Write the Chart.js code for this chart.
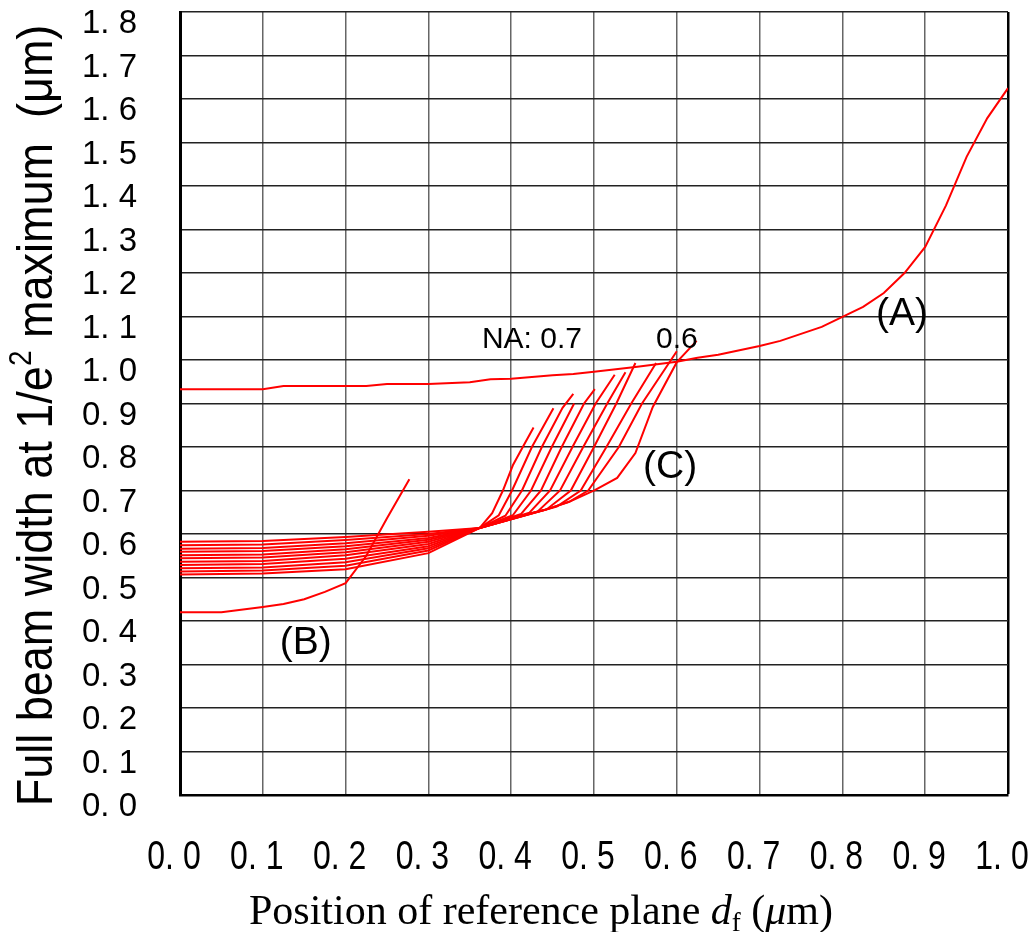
<!DOCTYPE html>
<html lang="en">
<head>
    <meta charset="UTF-8">
    <title>Full beam width vs reference plane position</title>
    <script src="https://cdn.jsdelivr.net/npm/chart.js"></script>
    <style>
        body {
            margin: 0;
            padding: 0;
            background: #fff;
        }
        #wrap {
            width: 1033px;
            height: 932px;
        }
    </style>
</head>
<body>
    <div id="wrap">
        <canvas id="beamChart" width="1033" height="932"></canvas>
    </div>

    <script>
        // tick values
        const xTicks = [0, 0.1, 0.2, 0.3, 0.4, 0.5, 0.6, 0.7, 0.8, 0.9, 1.0];
        const yTicks = [0, 0.1, 0.2, 0.3, 0.4, 0.5, 0.6, 0.7, 0.8, 0.9, 1.0, 1.1, 1.2, 1.3, 1.4, 1.5, 1.6, 1.7, 1.8];

        // curve (A)
        const curveA_x = [0, 0.1, 0.125, 0.225, 0.25, 0.3, 0.35, 0.375, 0.4, 0.45, 0.475, 0.5, 0.55, 0.6, 0.625, 0.65, 0.7, 0.725, 0.775, 0.8, 0.825, 0.85, 0.875, 0.9, 0.925, 0.95, 0.975, 1.0];
        const curveA_y = [0.933, 0.933, 0.940, 0.940, 0.945, 0.945, 0.949, 0.956, 0.957, 0.965, 0.968, 0.973, 0.984, 0.996, 1.005, 1.012, 1.032, 1.044, 1.076, 1.099, 1.122, 1.154, 1.200, 1.260, 1.355, 1.467, 1.556, 1.625];

        // curve (B)
        const curveB_x = [0, 0.05, 0.1, 0.125, 0.15, 0.175, 0.2, 0.225, 0.25, 0.277];
        const curveB_y = [0.420, 0.420, 0.432, 0.439, 0.450, 0.467, 0.487, 0.550, 0.636, 0.726];

        // curves (C), one per NA
        const na70_x = [0, 0.1, 0.2, 0.3, 0.362, 0.377, 0.390, 0.402, 0.414, 0.427];
        const na70_y = [0.507, 0.509, 0.519, 0.556, 0.614, 0.648, 0.700, 0.758, 0.800, 0.845];
        const na69_x = [0, 0.1, 0.2, 0.3, 0.362, 0.385, 0.401, 0.425, 0.451];
        const na69_y = [0.514, 0.516, 0.527, 0.562, 0.614, 0.643, 0.700, 0.800, 0.889];
        const na68_x = [0, 0.1, 0.2, 0.3, 0.362, 0.393, 0.413, 0.437, 0.462, 0.475];
        const na68_y = [0.521, 0.523, 0.535, 0.567, 0.614, 0.642, 0.700, 0.800, 0.890, 0.922];
        const na67_x = [0, 0.1, 0.2, 0.3, 0.362, 0.402, 0.424, 0.449, 0.476];
        const na67_y = [0.529, 0.531, 0.543, 0.572, 0.614, 0.643, 0.700, 0.800, 0.900];
        const na66_x = [0, 0.1, 0.2, 0.3, 0.362, 0.412, 0.436, 0.461, 0.488, 0.501];
        const na66_y = [0.536, 0.538, 0.551, 0.577, 0.614, 0.646, 0.700, 0.800, 0.900, 0.933];
        const na65_x = [0, 0.1, 0.2, 0.3, 0.362, 0.422, 0.447, 0.474, 0.502, 0.525];
        const na65_y = [0.544, 0.546, 0.558, 0.582, 0.614, 0.649, 0.700, 0.800, 0.900, 0.966];
        const na64_x = [0, 0.1, 0.2, 0.3, 0.362, 0.432, 0.459, 0.487, 0.516, 0.538];
        const na64_y = [0.551, 0.553, 0.565, 0.587, 0.614, 0.652, 0.700, 0.800, 0.900, 0.972];
        const na63_x = [0, 0.1, 0.2, 0.3, 0.362, 0.443, 0.472, 0.500, 0.527, 0.550];
        const na63_y = [0.559, 0.561, 0.572, 0.591, 0.614, 0.657, 0.700, 0.800, 0.900, 0.993];
        const na62_x = [0, 0.1, 0.2, 0.3, 0.362, 0.455, 0.484, 0.515, 0.545, 0.575];
        const na62_y = [0.566, 0.568, 0.579, 0.596, 0.614, 0.663, 0.700, 0.800, 0.900, 0.993];
        const na61_x = [0, 0.1, 0.2, 0.3, 0.362, 0.44, 0.47, 0.493, 0.530, 0.558, 0.600];
        const na61_y = [0.574, 0.576, 0.586, 0.600, 0.614, 0.655, 0.674, 0.700, 0.800, 0.900, 1.020];
        const na60_x = [0, 0.1, 0.2, 0.3, 0.362, 0.40, 0.44, 0.47, 0.501, 0.528, 0.55, 0.571, 0.60, 0.624];
        const na60_y = [0.582, 0.584, 0.593, 0.605, 0.614, 0.637, 0.655, 0.674, 0.701, 0.729, 0.786, 0.892, 0.995, 1.044];

        const curvesC = [
            [na70_x, na70_y], [na69_x, na69_y], [na68_x, na68_y], [na67_x, na67_y],
            [na66_x, na66_y], [na65_x, na65_y], [na64_x, na64_y], [na63_x, na63_y],
            [na62_x, na62_y], [na61_x, na61_y], [na60_x, na60_y]
        ];

        // labels placed in data coordinates
        const notes = [
            { text: 'NA: 0.7', x: 0.425, y: 1.046, size: 30 },
            { text: '0.6', x: 0.600, y: 1.046, size: 30 },
            { text: '(A)', x: 0.872, y: 1.106, size: 39 },
            { text: '(C)', x: 0.592, y: 0.754, size: 39 },
            { text: '(B)', x: 0.152, y: 0.350, size: 39 }
        ];

        function toPoints(xs, ys) {
            return xs.map((v, i) => ({ x: v, y: ys[i] }));
        }

        function redLine(label, xs, ys) {
            return {
                label: label,
                data: toPoints(xs, ys),
                showLine: true,
                borderColor: '#ff0000',
                borderWidth: 2,
                pointRadius: 0,
                tension: 0
            };
        }

        const datasets = [redLine('A', curveA_x, curveA_y), redLine('B', curveB_x, curveB_y)];
        curvesC.forEach((c, i) => datasets.push(redLine('C' + i, c[0], c[1])));

        const sans = '"Liberation Sans", Arial, sans-serif';
        const serif = '"Liberation Serif", "Times New Roman", serif';
        const fmt = v => v.toFixed(1).replace('.', '. ');

        const textPlugin = {
            id: 'texts',
            afterDatasetsDraw(chart) {
                const ctx = chart.ctx;
                const xs = chart.scales.x, ys = chart.scales.y;
                ctx.save();
                ctx.fillStyle = '#000';
                ctx.textAlign = 'center';
                ctx.textBaseline = 'middle';
                notes.forEach(n => {
                    ctx.font = n.size + 'px ' + sans;
                    ctx.fillText(n.text, xs.getPixelForValue(n.x), ys.getPixelForValue(n.y));
                });
                ctx.restore();
            },
            afterDraw(chart) {
                const ctx = chart.ctx;
                const area = chart.chartArea;
                const xs = chart.scales.x;

                // x tick labels, narrow and tall
                ctx.save();
                ctx.fillStyle = '#000';
                ctx.textAlign = 'center';
                ctx.textBaseline = 'middle';
                ctx.font = '40px ' + sans;
                xTicks.forEach(v => {
                    ctx.save();
                    ctx.translate(xs.getPixelForValue(v) - 6, area.bottom + 63);
                    ctx.scale(0.8, 1);
                    ctx.fillText(fmt(v), 0, 0);
                    ctx.restore();
                });
                ctx.restore();

                // y axis title, rotated
                const ySegs = [
                    { t: 'Full beam width at 1/e', f: '45px ' + sans, dy: 0 },
                    { t: '2', f: '28px ' + sans, dy: -19 },
                    { t: ' maximum  (\u03bcm)', f: '45px ' + sans, dy: 0 }
                ];
                ctx.save();
                ctx.fillStyle = '#000';
                ctx.textBaseline = 'alphabetic';
                ctx.textAlign = 'left';
                let total = 0;
                ySegs.forEach(s => { ctx.font = s.f; s.w = ctx.measureText(s.t).width; total += s.w; });
                ctx.translate(52, (area.top + area.bottom) / 2 + 12);
                ctx.rotate(-Math.PI / 2);
                ctx.scale(1, 1.1);
                let cx = -total / 2;
                ySegs.forEach(s => { ctx.font = s.f; ctx.fillText(s.t, cx, s.dy); cx += s.w; });
                ctx.restore();

                // x axis title
                const xSegs = [
                    { t: 'Position of reference plane ', f: '42px ' + serif, dy: 0 },
                    { t: 'd', f: 'italic 42px ' + serif, dy: 0 },
                    { t: 'f', f: '27px ' + serif, dy: 7 },
                    { t: ' (', f: '42px ' + serif, dy: 0 },
                    { t: '\u03bc', f: 'italic 42px ' + serif, dy: 0 },
                    { t: 'm)', f: '42px ' + serif, dy: 0 }
                ];
                ctx.save();
                ctx.fillStyle = '#000';
                ctx.textBaseline = 'alphabetic';
                ctx.textAlign = 'left';
                total = 0;
                xSegs.forEach(s => { ctx.font = s.f; s.w = ctx.measureText(s.t).width; total += s.w; });
                let px = (area.left + area.right) / 2 - 53 - total / 2;
                xSegs.forEach(s => { ctx.font = s.f; ctx.fillText(s.t, px, 924 + s.dy); px += s.w; });
                ctx.restore();
            }
        };

        new Chart(document.getElementById('beamChart'), {
            type: 'scatter',
            data: { datasets: datasets },
            options: {
                responsive: false,
                animation: false,
                layout: { padding: { top: 12, right: 25, left: 0, bottom: 0 } },
                plugins: {
                    legend: { display: false },
                    tooltip: { enabled: false }
                },
                scales: {
                    x: {
                        type: 'linear',
                        min: 0,
                        max: 1,
                        afterBuildTicks: s => { s.ticks = xTicks.map(v => ({ value: v })); },
                        afterFit: s => { s.height = 137; s.paddingLeft = 0; s.paddingRight = 0; },
                        ticks: { display: false },
                        grid: {
                            color: c => (c.tick && c.tick.value === 1) ? '#000' : '#666',
                            lineWidth: c => (c.tick && c.tick.value === 1) ? 2.5 : 1.5,
                            drawTicks: false
                        },
                        border: { display: true, color: '#000', width: 2.5 }
                    },
                    y: {
                        type: 'linear',
                        min: 0,
                        max: 1.8,
                        afterBuildTicks: s => { s.ticks = yTicks.map(v => ({ value: v })); },
                        afterFit: s => { s.width = 180; s.paddingTop = 0; s.paddingBottom = 0; },
                        ticks: {
                            callback: v => fmt(v),
                            color: '#000',
                            padding: 43,
                            labelOffset: 12,
                            autoSkip: false,
                            font: { family: sans, size: 33 }
                        },
                        grid: {
                            color: '#222',
                            lineWidth: 1.5,
                            drawTicks: false
                        },
                        border: { display: true, color: '#000', width: 3 }
                    }
                }
            },
            plugins: [textPlugin]
        });
    </script>
</body>
</html>
